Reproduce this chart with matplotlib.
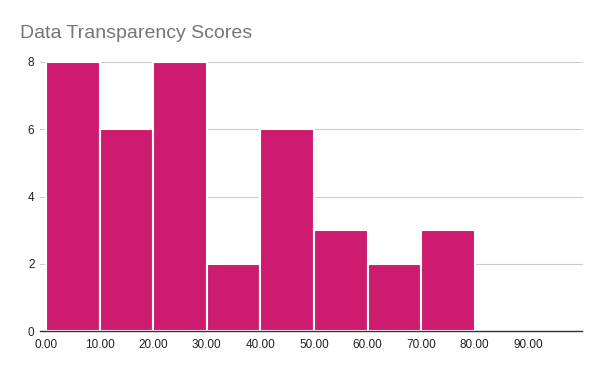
import matplotlib.pyplot as plt
import numpy as np

plt.rcParams['font.family'] = ['Liberation Sans', 'DejaVu Sans']

# histogram bins (left edges) and counts
bin_left = [0, 10, 20, 30, 40, 50, 60, 70]
counts = [8, 6, 8, 2, 6, 3, 2, 3]
x_ticks = [0, 10, 20, 30, 40, 50, 60, 70, 80, 90]
y_ticks = [0, 2, 4, 6, 8]

fig = plt.figure(figsize=(6, 3.71), dpi=100)
ax = fig.add_axes([40/600, 1 - 331/371, 542/600, 269/371])

ax.bar(bin_left, counts, width=10, align='edge', color='#cd1c6f',
       edgecolor='white', linewidth=1.5, zorder=3)

ax.set_xlim(-1.1, 100)
ax.set_ylim(0, 8)
ax.set_xticks(x_ticks)
ax.set_xticklabels(['%.2f' % v for v in x_ticks])
ax.set_yticks(y_ticks)
ax.grid(axis='y', color='#cccccc', linewidth=0.8, zorder=0)
for g in ax.get_ygridlines():
    g.set_clip_on(False)

for s in ['top', 'right', 'left']:
    ax.spines[s].set_visible(False)
ax.spines['bottom'].set_color('#333333')
ax.spines['bottom'].set_linewidth(1)
ax.spines['bottom'].set_zorder(4)
ax.tick_params(length=0, labelsize=8.5, colors='#222222')
ax.tick_params(axis='x', pad=6)
ax.tick_params(axis='y', pad=4)

fig.text(20/600, 1 - 33/371, 'Data Transparency Scores', fontsize=14,
         color='#757575', va='center', ha='left')

fig.savefig('out.png', dpi=100, facecolor='white')
